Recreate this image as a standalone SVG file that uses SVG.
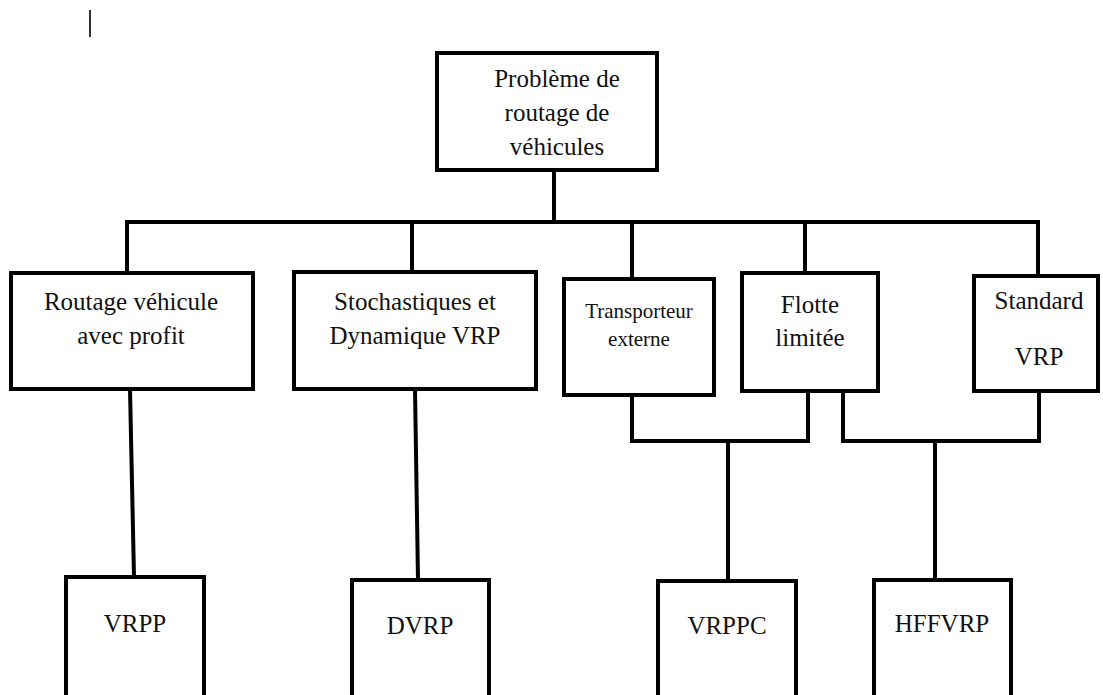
<svg xmlns="http://www.w3.org/2000/svg" width="1103" height="695" viewBox="0 0 1103 695">
<style>
.box{fill:#fff;stroke:#000;stroke-width:4}
.ln{fill:none;stroke:#000;stroke-width:4}
text{font-family:"Liberation Serif","Times New Roman",serif;font-size:25px;fill:#111;text-anchor:middle}
.sm{font-size:21px}
</style>
<rect width="1103" height="695" fill="#fff"/>
<line x1="90" y1="10" x2="90" y2="37" stroke="#333" stroke-width="2"/>
<g id="connectors">
<polyline class="ln" points="554,170 554,222"/>
<polyline class="ln" points="127,273 127,222 1038,222 1038,276"/>
<line class="ln" x1="412" y1="222" x2="412" y2="272"/>
<line class="ln" x1="632" y1="222" x2="632" y2="279"/>
<line class="ln" x1="805" y1="222" x2="805" y2="273"/>
<line class="ln" x1="130" y1="389" x2="134" y2="577"/>
<line class="ln" x1="415" y1="389" x2="418" y2="580"/>
<polyline class="ln" points="632,395 632,441 808,441 808,391"/>
<line class="ln" x1="728" y1="441" x2="728" y2="581"/>
<polyline class="ln" points="843,391 843,441 1039,441 1039,391"/>
<line class="ln" x1="935" y1="441" x2="935" y2="580"/>
</g>
<g id="root">
<rect class="box" x="437" y="53" width="220" height="117"/>
<text x="557" y="87">Problème de</text>
<text x="557" y="121">routage de</text>
<text x="557" y="155">véhicules</text>
</g>
<g id="n-profit">
<rect class="box" x="11" y="273" width="242" height="116"/>
<text x="131" y="310">Routage véhicule</text>
<text x="131" y="344">avec profit</text>
</g>
<g id="n-stoch">
<rect class="box" x="294" y="272" width="242" height="117"/>
<text x="415" y="310">Stochastiques et</text>
<text x="415" y="344">Dynamique VRP</text>
</g>
<g id="n-transp">
<rect class="box" x="564" y="279" width="150" height="116"/>
<text class="sm" x="639" y="318">Transporteur</text>
<text class="sm" x="639" y="346">externe</text>
</g>
<g id="n-flotte">
<rect class="box" x="742" y="273" width="136" height="118"/>
<text x="810" y="313">Flotte</text>
<text x="810" y="346">limitée</text>
</g>
<g id="n-standard">
<rect class="box" x="974" y="276" width="124" height="115"/>
<text x="1039" y="309">Standard</text>
<text x="1039" y="365">VRP</text>
</g>
<g id="n-vrpp">
<rect class="box" x="66" y="577" width="138" height="130"/>
<text x="135" y="632">VRPP</text>
</g>
<g id="n-dvrp">
<rect class="box" x="352" y="580" width="137" height="130"/>
<text x="420" y="634">DVRP</text>
</g>
<g id="n-vrppc">
<rect class="box" x="658" y="581" width="138" height="130"/>
<text x="727" y="634">VRPPC</text>
</g>
<g id="n-hffvrp">
<rect class="box" x="874" y="580" width="137" height="130"/>
<text x="942" y="632">HFFVRP</text>
</g>
</svg>
